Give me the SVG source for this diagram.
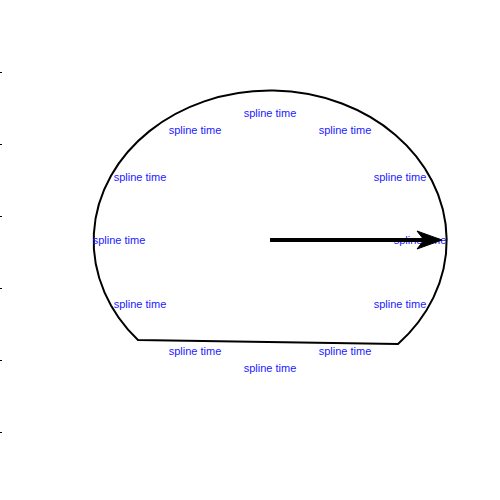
<svg xmlns="http://www.w3.org/2000/svg" width="500" height="500" viewBox="0 0 500 500">
<style>
.lbl{font-family:"Liberation Sans",Arial,sans-serif;font-size:11px;fill:#1a1aff;text-anchor:middle}
.tick{stroke:#000;stroke-width:1}
</style>
<rect width="500" height="500" fill="#fff"/>
<g id="ticks">
<line class="tick" x1="0" y1="72.5" x2="2" y2="72.5"/>
<line class="tick" x1="0" y1="144.5" x2="2" y2="144.5"/>
<line class="tick" x1="0" y1="216.5" x2="2" y2="216.5"/>
<line class="tick" x1="0" y1="288.5" x2="2" y2="288.5"/>
<line class="tick" x1="0" y1="360.5" x2="2" y2="360.5"/>
<line class="tick" x1="0" y1="432.5" x2="2" y2="432.5"/>
</g>
<g id="shape">
<path d="M138,340 A176.5,150 0 1 1 398,344 Z" fill="none" stroke="#000" stroke-width="2"/>
</g>
<g id="labels">
<text class="lbl" x="270" y="117">spline time</text>
<text class="lbl" x="195" y="134">spline time</text>
<text class="lbl" x="345" y="134">spline time</text>
<text class="lbl" x="140" y="181">spline time</text>
<text class="lbl" x="400" y="181">spline time</text>
<text class="lbl" x="119" y="244">spline time</text>
<text class="lbl" x="420" y="244">spline time</text>
<text class="lbl" x="140" y="308">spline time</text>
<text class="lbl" x="400" y="308">spline time</text>
<text class="lbl" x="195" y="355">spline time</text>
<text class="lbl" x="345" y="355">spline time</text>
<text class="lbl" x="270" y="372">spline time</text>
</g>
<g id="connectors">
<line x1="270" y1="240" x2="430" y2="240" stroke="#000" stroke-width="4"/>
<path d="M442,240 L417,231 L424,240 L417,249 Z" fill="#000" stroke="#000" stroke-width="1" stroke-linejoin="miter"/>
</g>
</svg>
